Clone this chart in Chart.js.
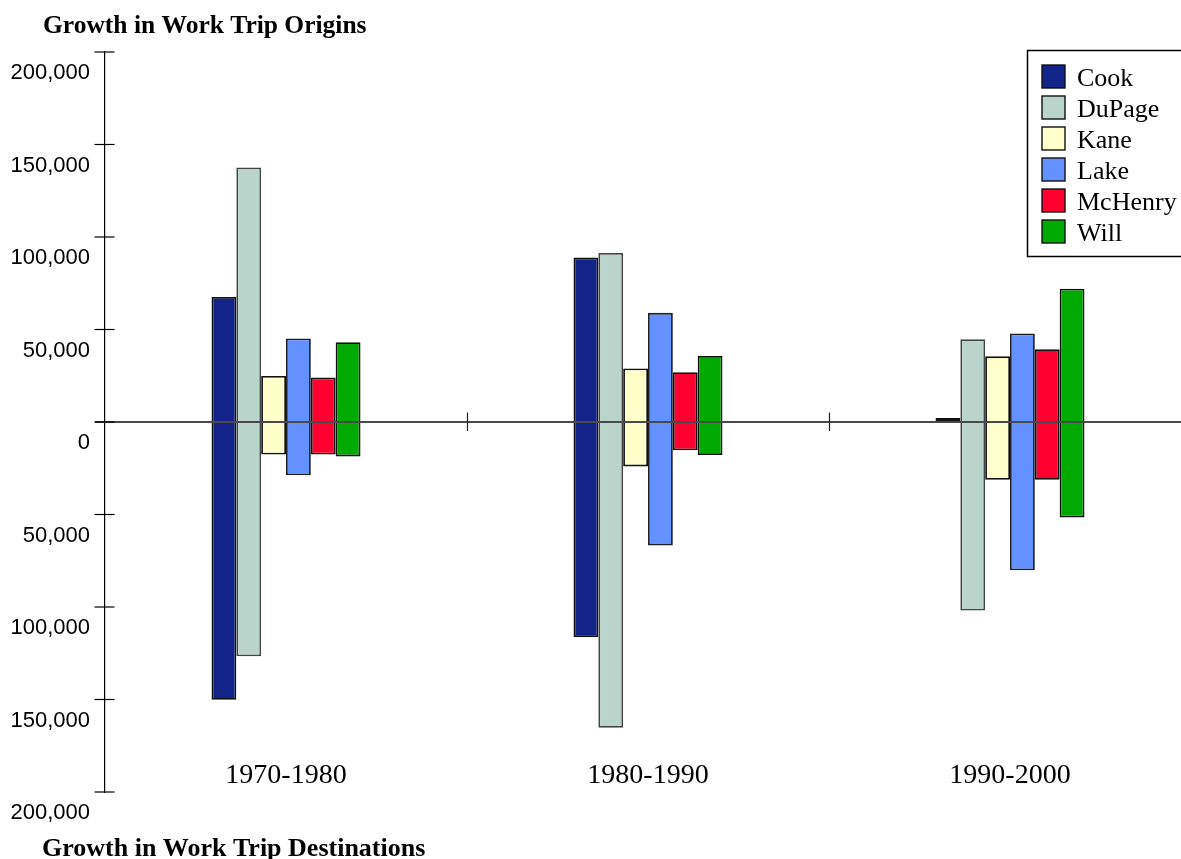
<!DOCTYPE html>
<html>
<head>
<meta charset="utf-8">
<script src="https://cdn.jsdelivr.net/npm/chart.js@4.4.1/dist/chart.umd.min.js"></script>
<style>
  html, body { margin: 0; padding: 0; background: #fff; overflow: hidden; }
  #wrap { width: 1200px; height: 859px; }
</style>
</head>
<body>
<div id="wrap"><canvas id="growthChart" width="1200" height="859"></canvas></div>
<script>
const periods = ['1970-1980', '1980-1990', '1990-2000'];
const counties = ['Cook', 'DuPage', 'Kane', 'Lake', 'McHenry', 'Will'];

// growth in work trip origins (plotted upward)
const cookOrigins    = [67600, 88900, 2200];
const dupageOrigins  = [137600, 91400, 44700];
const kaneOrigins    = [24900, 28900, 35500];
const lakeOrigins    = [45100, 59000, 47800];
const mchenryOrigins = [24000, 26900, 39300];
const willOrigins    = [43100, 35700, 72000];

// growth in work trip destinations (plotted downward)
const cookDestinations    = [-150200, -116300, 0];
const dupageDestinations  = [-126600, -165300, -101900];
const kaneDestinations    = [-17600, -24000, -31200];
const lakeDestinations    = [-28800, -66700, -80200];
const mchenryDestinations = [-17600, -15300, -31200];
const willDestinations    = [-18600, -17900, -51600];

const yTickValues = [-200000, -150000, -100000, -50000, 0, 50000, 100000, 150000, 200000];

const originSeries = [cookOrigins, dupageOrigins, kaneOrigins, lakeOrigins, mchenryOrigins, willOrigins];
const destSeries = [cookDestinations, dupageDestinations, kaneDestinations, lakeDestinations, mchenryDestinations, willDestinations];

const fills = ['#12238a', '#b9d4ca', '#ffffcc', '#6391ff', '#ff0030', '#00aa00'];
const edges = ['#111111', '#444444', '#111111', '#222222', '#111111', '#111111'];

const serif = '"Liberation Serif", "Times New Roman", serif';

const decor = {
  id: 'decor',
  afterDatasetsDraw(chart) {
    const ctx = chart.ctx;
    const xs = chart.scales.x;
    const ys = chart.scales.y;
    const y0 = ys.getPixelForValue(0);
    ctx.save();

    // zero line across the bars
    ctx.strokeStyle = '#4a4a4a';
    ctx.lineWidth = 1.8;
    ctx.beginPath();
    ctx.moveTo(95, y0);
    ctx.lineTo(chart.width, y0);
    ctx.stroke();

    // separators between periods
    ctx.strokeStyle = '#222';
    ctx.lineWidth = 1.2;
    for (let i = 0; i < periods.length - 1; i++) {
      const xm = Math.round((xs.getPixelForTick(i) + xs.getPixelForTick(i + 1)) / 2) + 0.5;
      ctx.beginPath();
      ctx.moveTo(xm, y0 - 9.5);
      ctx.lineTo(xm, y0 + 9);
      ctx.stroke();
    }

    // cross ticks on the value axis
    ctx.strokeStyle = '#000';
    ctx.lineWidth = 1.2;
    yTickValues.forEach(v => {
      const py = ys.getPixelForValue(v);
      ctx.beginPath();
      ctx.moveTo(94.5, py);
      ctx.lineTo(114.5, py);
      ctx.stroke();
    });

    // period labels
    ctx.fillStyle = '#000';
    ctx.font = '28px ' + serif;
    ctx.textAlign = 'center';
    ctx.textBaseline = 'alphabetic';
    periods.forEach((p, i) => {
      ctx.fillText(p, xs.getPixelForTick(i), 783);
    });

    // axis captions
    ctx.font = 'bold 25.5px ' + serif;
    ctx.textAlign = 'left';
    ctx.fillText('Growth in Work Trip Origins', 43, 33);
    ctx.font = 'bold 26px ' + serif;
    ctx.fillText('Growth in Work Trip Destinations', 42, 856);

    // legend
    ctx.strokeStyle = '#000';
    ctx.lineWidth = 1.5;
    ctx.strokeRect(1027.5, 50.5, 200, 206);
    ctx.font = '26px ' + serif;
    chart.data.datasets.forEach((ds, k) => {
      const top = 65 + k * 31;
      ctx.fillStyle = ds.backgroundColor;
      ctx.fillRect(1042, top, 23, 23);
      ctx.strokeStyle = '#111';
      ctx.lineWidth = 1.4;
      ctx.strokeRect(1042, top, 23, 23);
      ctx.fillStyle = '#000';
      ctx.fillText(ds.label, 1077, top + 21);
    });

    ctx.restore();
  }
};

new Chart(document.getElementById('growthChart'), {
  type: 'bar',
  data: {
    labels: periods,
    datasets: counties.map((name, k) => ({
      label: name,
      data: periods.map((p, i) => [destSeries[k][i], originSeries[k][i]]),
      backgroundColor: fills[k],
      borderColor: edges[k],
      borderWidth: 1.8,
      borderSkipped: false,
      categoryPercentage: 0.4116,
      barPercentage: 1.0
    }))
  },
  options: {
    responsive: false,
    animation: false,
    layout: { padding: { top: 52, bottom: 67, left: 0, right: 9 } },
    plugins: {
      legend: { display: false },
      tooltip: { enabled: false },
      title: { display: false }
    },
    scales: {
      x: { display: false },
      y: {
        min: -200000,
        max: 200000,
        afterFit: s => { s.width = 105; },
        ticks: {
          stepSize: 50000,
          labelOffset: 21,
          padding: 15,
          color: '#000',
          font: { family: '"Liberation Sans", Arial, sans-serif', size: 22 },
          callback: v => Math.abs(v).toLocaleString('en-US')
        },
        grid: { drawOnChartArea: false, drawTicks: false },
        border: { display: true, color: '#000', width: 1.2 }
      }
    }
  },
  plugins: [decor]
});
</script>
</body>
</html>
